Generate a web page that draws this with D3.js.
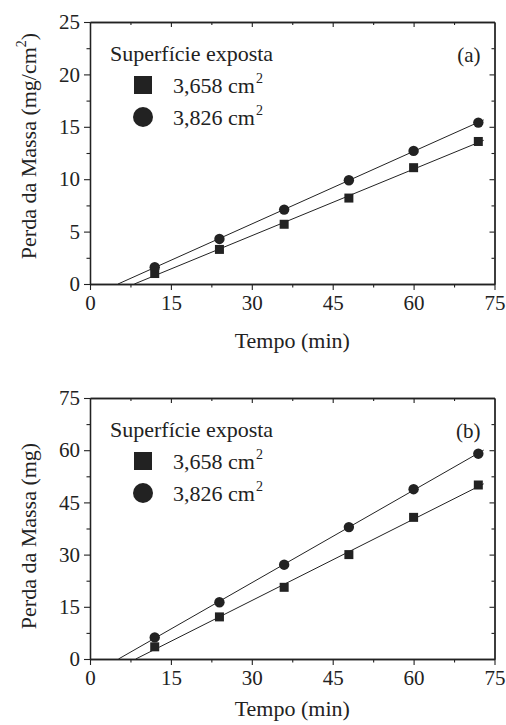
<!DOCTYPE html>
<html>
<head>
<meta charset="utf-8">
<script src="https://cdn.jsdelivr.net/npm/d3@7"></script>
<style>
  body { margin: 0; background: #fff; }
</style>
</head>
<body>
<div id="chart"></div>
<script>
var svgWidth = 506;
var svgHeight = 725;
var serif = "Liberation Serif";

// data
var tempo = [12, 24, 36, 48, 60, 72];
var perdaA_3658 = [1.0, 3.3, 5.7, 8.2, 11.1, 13.6];
var perdaA_3826 = [1.6, 4.3, 7.1, 9.9, 12.7, 15.4];
var perdaB_3658 = [3.5, 12.1, 20.6, 30.0, 40.7, 50.0];
var perdaB_3826 = [6.2, 16.3, 27.1, 37.9, 48.8, 59.0];
var xTicks = [0, 15, 30, 45, 60, 75];
var yTicksA = [0, 5, 10, 15, 20, 25];
var yTicksB = [0, 15, 30, 45, 60, 75];
var legendLabels = ["3,658 cm", "3,826 cm"];
var legendTitle = "Superfície exposta";

var svg = d3.select("#chart")
  .append("svg")
    .attr("width", svgWidth)
    .attr("height", svgHeight)
    .attr("font-family", serif);

// least squares line through a series
function fit(xs, ys) {
  var mx = d3.mean(xs), my = d3.mean(ys);
  var sxy = d3.sum(xs, (x, i) => (x - mx) * (ys[i] - my));
  var sxx = d3.sum(xs, x => (x - mx) * (x - mx));
  var b = sxy / sxx;
  return { b: b, a: my - b * mx };
}

function drawPanel(p) {
  var g = svg.append("g");
  var x = d3.scaleLinear().domain([0, 75]).range([p.left, p.right]);
  var y = d3.scaleLinear().domain([0, p.yMax]).range([p.bottom, p.top]);
  var xMinor = d3.range(7.5, 75, 15);
  var yMinor = d3.range(p.yStep / 2, p.yMax, p.yStep);

  // bottom / left: outward ticks with labels
  g.append("g").attr("class", "ax")
    .attr("transform", `translate(0,${p.bottom})`)
    .call(d3.axisBottom(x).tickValues(xTicks).tickSize(6).tickPadding(5).tickSizeOuter(0));
  g.append("g").attr("class", "ax")
    .attr("transform", `translate(0,${p.bottom})`)
    .call(d3.axisBottom(x).tickValues(xMinor).tickSize(3.5).tickFormat("").tickSizeOuter(0));
  g.append("g").attr("class", "ax")
    .attr("transform", `translate(${p.left},0)`)
    .call(d3.axisLeft(y).tickValues(p.yTicks).tickSize(6).tickPadding(4).tickSizeOuter(0));
  g.append("g").attr("class", "ax")
    .attr("transform", `translate(${p.left},0)`)
    .call(d3.axisLeft(y).tickValues(yMinor).tickSize(3.5).tickFormat("").tickSizeOuter(0));

  // top / right: inward ticks only
  g.append("g").attr("class", "ax")
    .attr("transform", `translate(0,${p.top})`)
    .call(d3.axisTop(x).tickValues(xTicks.slice(1, -1)).tickSize(-5).tickFormat("").tickSizeOuter(0));
  g.append("g").attr("class", "ax")
    .attr("transform", `translate(0,${p.top})`)
    .call(d3.axisTop(x).tickValues(xMinor).tickSize(-3).tickFormat("").tickSizeOuter(0));
  g.append("g").attr("class", "ax")
    .attr("transform", `translate(${p.right},0)`)
    .call(d3.axisRight(y).tickValues(p.yTicks.slice(1, -1)).tickSize(-5).tickFormat("").tickSizeOuter(0));
  g.append("g").attr("class", "ax")
    .attr("transform", `translate(${p.right},0)`)
    .call(d3.axisRight(y).tickValues(yMinor).tickSize(-3).tickFormat("").tickSizeOuter(0));

  g.selectAll(".ax").attr("font-family", serif).attr("font-size", 21);
  g.selectAll(".ax path").attr("stroke", "#222").attr("stroke-width", 1.3);
  g.selectAll(".ax line").attr("stroke", "#222").attr("stroke-width", 1.1);
  g.selectAll(".ax text").attr("fill", "#222");

  // fitted lines
  [p.sq, p.ci].forEach(ys => {
    var f = fit(tempo, ys);
    var x0 = -f.a / f.b, x1 = 73;
    g.append("line")
      .attr("x1", x(x0)).attr("y1", y(0))
      .attr("x2", x(x1)).attr("y2", y(f.a + f.b * x1))
      .attr("stroke", "#222").attr("stroke-width", 1);
  });

  // points
  g.selectAll(".sq").data(tempo).enter().append("rect")
    .attr("x", d => x(d) - 4.5)
    .attr("y", (d, i) => y(p.sq[i]) - 4.5)
    .attr("width", 9).attr("height", 9)
    .attr("fill", "#222");
  g.selectAll(".ci").data(tempo).enter().append("circle")
    .attr("cx", d => x(d))
    .attr("cy", (d, i) => y(p.ci[i]))
    .attr("r", 5.2)
    .attr("fill", "#222");

  // legend
  g.append("text").attr("x", p.left + 20).attr("y", p.top + 39)
    .attr("font-size", 22).text(legendTitle);
  g.append("rect").attr("x", p.left + 44).attr("y", p.top + 54)
    .attr("width", 18).attr("height", 18).attr("fill", "#222");
  g.append("circle").attr("cx", p.left + 53).attr("cy", p.top + 95)
    .attr("r", 10).attr("fill", "#222");
  legendLabels.forEach((lab, i) => {
    var t = g.append("text").attr("x", p.left + 83).attr("y", p.top + 71 + i * 32)
      .attr("font-size", 22).text(lab);
    t.append("tspan").attr("dy", -10).attr("dx", 1).attr("font-size", 14).text("2");
  });

  g.append("text").attr("x", p.right - 14).attr("y", p.top + 40)
    .attr("text-anchor", "end").attr("font-size", 21).text(p.tag);

  // axis titles
  var yt = g.append("text")
    .attr("transform", `translate(36,${p.yTitleY}) rotate(-90)`)
    .attr("text-anchor", "middle")
    .attr("font-size", 22)
    .text(p.yTitle);
  if (p.yTitleSup) {
    yt.append("tspan").attr("dy", -10).attr("font-size", 14).text("2");
    yt.append("tspan").attr("dy", 10).text(")");
  }
  g.append("text")
    .attr("x", (p.left + p.right) / 2)
    .attr("y", p.bottom + p.xTitleDy)
    .attr("text-anchor", "middle")
    .attr("font-size", 22)
    .text("Tempo (min)");

  g.selectAll("text").attr("font-family", serif).attr("fill", "#222");
}

drawPanel({
  left: 90, right: 494.5, top: 22, bottom: 284,
  yMax: 25, yStep: 5, yTicks: yTicksA,
  sq: perdaA_3658, ci: perdaA_3826,
  tag: "(a)", yTitle: "Perda da Massa (mg/cm", yTitleSup: true, yTitleY: 146,
  xTitleDy: 64
});
drawPanel({
  left: 90, right: 494.5, top: 398, bottom: 659,
  yMax: 75, yStep: 15, yTicks: yTicksB,
  sq: perdaB_3658, ci: perdaB_3826,
  tag: "(b)", yTitle: "Perda da Massa (mg)", yTitleSup: false, yTitleY: 536,
  xTitleDy: 57
});
</script>
</body>
</html>
